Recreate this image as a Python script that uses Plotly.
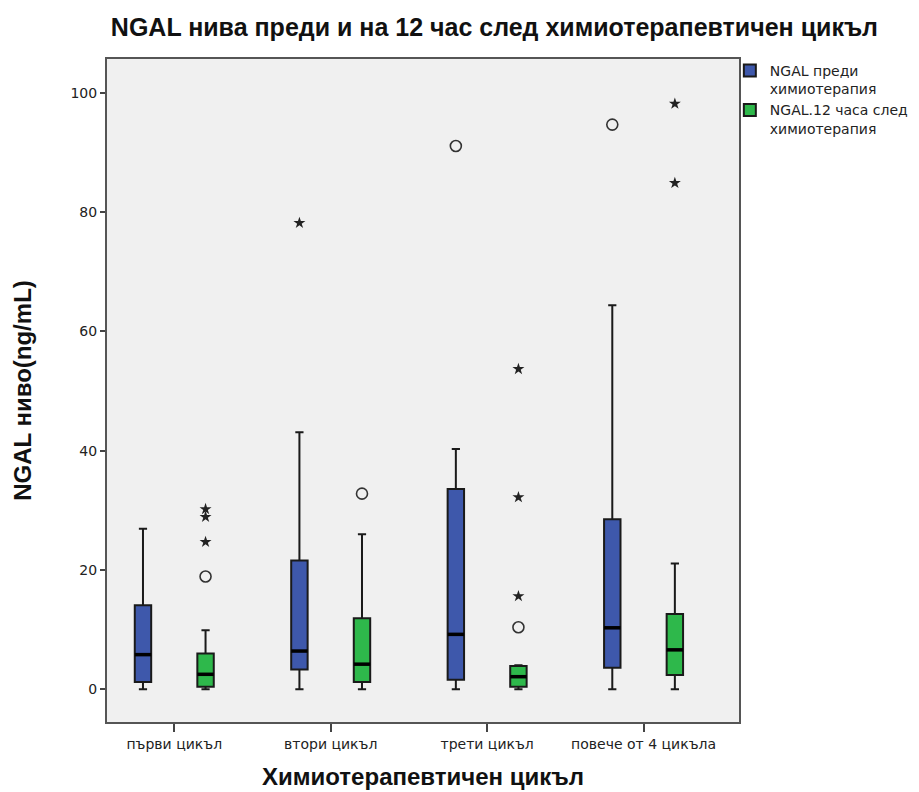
import plotly.graph_objects as go

# ---------------- data ----------------
categories = ["първи цикъл", "втори цикъл", "трети цикъл", "повече от 4 цикъла"]

before_min = [0.0, 0.0, 0.0, 0.0]
before_q1 = [1.2, 3.3, 1.6, 3.6]
before_med = [5.8, 6.4, 9.2, 10.3]
before_q3 = [14.1, 21.6, 33.6, 28.5]
before_max = [26.9, 43.1, 40.3, 64.4]

after_min = [0.0, 0.0, 0.0, 0.0]
after_q1 = [0.4, 1.2, 0.4, 2.4]
after_med = [2.5, 4.2, 2.1, 6.6]
after_q3 = [6.0, 11.9, 3.9, 12.6]
after_max = [9.9, 26.0, 4.0, 21.1]

# outliers: category index + value
before_circ_cat = [2, 3]
before_circ_val = [91.1, 94.7]
before_star_cat = [1]
before_star_val = [78.2]

after_circ_cat = [0, 1, 2]
after_circ_val = [18.9, 32.8, 10.4]
after_star_cat = [0, 0, 0, 2, 2, 2, 3, 3]
after_star_val = [30.2, 28.9, 24.7, 53.7, 32.2, 15.6, 98.2, 84.9]

y_ticks = [0, 20, 40, 60, 80, 100]

name_before = "NGAL преди<br>химиотерапия"
name_after = "NGAL.12 часа след<br>химиотерапия"

# ---------------- style ----------------
OFFSET = 0.2
BOX_W = 0.105
BLUE = "#3e58ab"
GREEN = "#2eb84b"
LINE = "#1a1a1a"
FONT = "Liberation Sans, Arial, sans-serif"
SMALL = "DejaVu Sans, Verdana, sans-serif"

idx = list(range(len(categories)))
pos_before = [i - OFFSET for i in idx]
pos_after = [i + OFFSET for i in idx]

fig = go.Figure()


def add_box(pos, q1, med, q3, lo, hi, color, name):
    fig.add_trace(go.Box(
        x=pos, q1=q1, median=med, q3=q3, lowerfence=lo, upperfence=hi,
        width=BOX_W, whiskerwidth=0.5, fillcolor=color,
        line=dict(color=LINE, width=2), boxpoints=False, name=name,
        hoverinfo="skip",
    ))
    # thicker median line
    xs, ys = [], []
    for p, m in zip(pos, med):
        xs += [p - BOX_W / 2, p + BOX_W / 2, None]
        ys += [m, m, None]
    fig.add_trace(go.Scatter(x=xs, y=ys, mode="lines",
                             line=dict(color="#000000", width=3.5),
                             showlegend=False, hoverinfo="skip"))


add_box(pos_before, before_q1, before_med, before_q3, before_min, before_max, BLUE, name_before)
add_box(pos_after, after_q1, after_med, after_q3, after_min, after_max, GREEN, name_after)


def add_outliers(cats, vals, off, symbol):
    if symbol == "circle":
        marker = dict(symbol="circle-open", size=11, color="#333333", line=dict(width=1.6, color="#333333"))
    else:
        marker = dict(symbol="star", size=9, color="#222222", line=dict(width=0))
    fig.add_trace(go.Scatter(
        x=[c + off for c in cats], y=vals, mode="markers", marker=marker,
        showlegend=False, hoverinfo="skip",
    ))


add_outliers(before_circ_cat, before_circ_val, -OFFSET, "circle")
add_outliers(before_star_cat, before_star_val, -OFFSET, "star")
add_outliers(after_circ_cat, after_circ_val, OFFSET, "circle")
add_outliers(after_star_cat, after_star_val, OFFSET, "star")

fig.update_layout(
    width=919, height=792,
    margin=dict(l=107, r=180, t=59, b=70, autoexpand=False),
    paper_bgcolor="white", plot_bgcolor="#f0f0f0",
    font=dict(family=FONT, color="#222222"),
    title=dict(text="<b>NGAL нива преди и на 12 час след химиотерапевтичен цикъл</b>",
               x=0.538, xanchor="center", y=0.965, yanchor="middle",
               font=dict(size=25, color="#111111", family=FONT)),
    showlegend=True,
    legend=dict(x=0.9855, xanchor="left", y=1.006, yanchor="top",
                bgcolor="rgba(0,0,0,0)", font=dict(size=14, color="#222222", family=SMALL),
                valign="top", tracegroupgap=4, itemwidth=30),
    xaxis=dict(
        range=[-0.43, 3.61], tickmode="array", tickvals=idx, ticktext=categories,
        ticks="outside", ticklen=8, tickwidth=1.5, tickcolor="#444444",
        showline=True, linecolor="#555555", linewidth=2, mirror=True,
        showgrid=False, zeroline=False, automargin=False,
        tickfont=dict(size=14, color="#222222", family=SMALL),
        title=dict(text="<b>Химиотерапевтичен цикъл</b>", font=dict(size=24, color="#111111"), standoff=17),
    ),
    yaxis=dict(
        range=[-5.5, 105.7], tickmode="array", tickvals=y_ticks,
        ticks="outside", ticklen=5, tickwidth=1.5, tickcolor="#444444",
        showline=True, linecolor="#555555", linewidth=2, mirror=True,
        showgrid=False, zeroline=False, automargin=False,
        tickfont=dict(size=14, color="#222222", family=SMALL),
        title=dict(text="<b>NGAL ниво(ng/mL)</b>", font=dict(size=24, color="#111111"), standoff=32),
    ),
)

fig.write_html("out.html")
